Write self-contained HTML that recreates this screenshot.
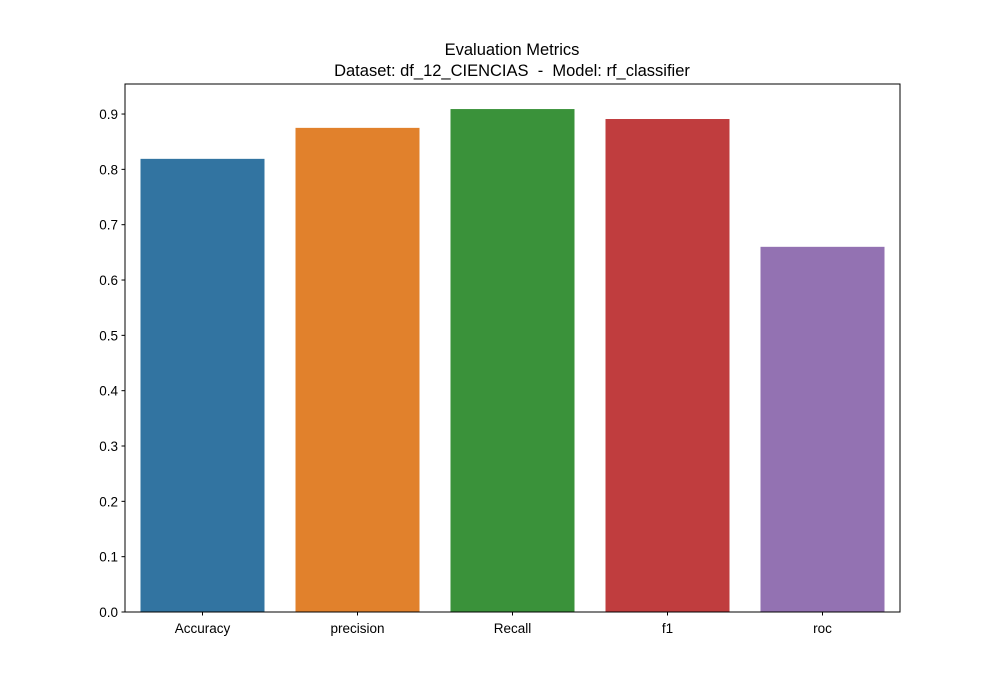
<!DOCTYPE html>
<html><head><meta charset="utf-8"><style>
html,body{margin:0;padding:0;background:#fff;}
svg{display:block;font-family:"Liberation Sans","DejaVu Sans",sans-serif;}
</style></head><body>
<svg id="chart" width="1000" height="700" viewBox="0 0 1000 700">
<text x="512" y="55" text-anchor="middle" font-size="16.5" fill="#000">Evaluation Metrics</text>
<text x="512" y="76" text-anchor="middle" font-size="16.5" fill="#000" style="white-space:pre" xml:space="preserve">Dataset: df_12_CIENCIAS  -  Model: rf_classifier</text>
<g id="bars"></g>
<g id="axes"></g>
</svg>
<script>
const categories = ["Accuracy","precision","Recall","f1","roc"];
const values = [0.819, 0.875, 0.909, 0.891, 0.660];
const colors = ["#3274a1","#e1812c","#3a923a","#c03d3e","#9372b2"];
const yTicks = [0.0,0.1,0.2,0.3,0.4,0.5,0.6,0.7,0.8,0.9];
const yTickLabels = ["0.0","0.1","0.2","0.3","0.4","0.5","0.6","0.7","0.8","0.9"];

const NS="http://www.w3.org/2000/svg";
const L=125,R=900,T=84,B=612;
const yMax=(B-T)/553.3;
const y=v=>B-(v/yMax)*(B-T);
const step=(R-L)/categories.length;
const xc=i=>L+step*(i+0.5);
const bw=step*0.8;
const bars=document.getElementById('bars');
const axes=document.getElementById('axes');
function mk(tag,attrs,parent){const e=document.createElementNS(NS,tag);for(const k in attrs)e.setAttribute(k,attrs[k]);parent.appendChild(e);return e;}

values.forEach((v,i)=>{
  const r=mk('rect',{x:xc(i)-bw/2,y:y(v),width:bw,height:B-y(v),fill:colors[i]},bars);
  
  
});

const frame=mk('rect',{x:L,y:T,width:R-L,height:B-T,fill:'none',stroke:'#000','stroke-width':1},axes);



yTicks.forEach((t,i)=>{
  const yy=y(t);
  const tk=mk('line',{x1:L-3.5,x2:L,y1:yy,y2:yy,stroke:'#000','stroke-width':1},axes);
  
  
  const lb=mk('text',{x:L-7,y:yy+5,'text-anchor':'end','font-size':'13.5',fill:'#000'},axes);
  lb.textContent=yTickLabels[i];
  
  
});

categories.forEach((c,i)=>{
  const xx=xc(i);
  const tk=mk('line',{x1:xx,x2:xx,y1:B,y2:B+3.5,stroke:'#000','stroke-width':1},axes);
  
  
  const lb=mk('text',{x:xx,y:B+21,'text-anchor':'middle','font-size':'13.5',fill:'#000'},axes);
  lb.textContent=c;
  
  
});
</script>
</body></html>
